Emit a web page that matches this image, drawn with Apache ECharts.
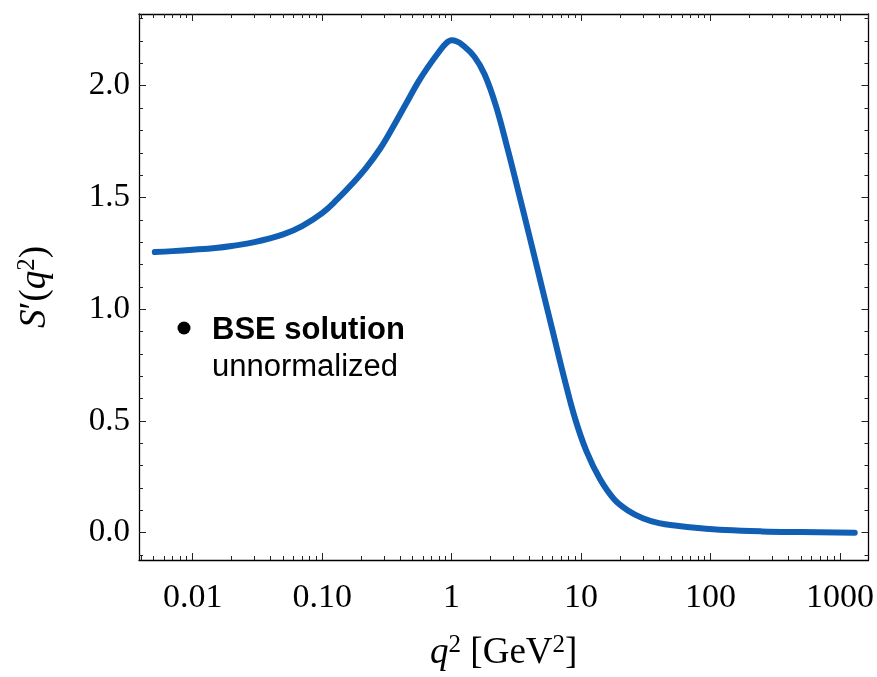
<!DOCTYPE html>
<html>
<head>
<meta charset="utf-8">
<script src="https://cdn.jsdelivr.net/npm/echarts@6/dist/echarts.min.js"></script>
<style>html,body{margin:0;padding:0;background:#fff;}#c{width:877px;height:677px;}</style>
</head>
<body>
<div id="c"></div>
<script>
// ---- data ----
const q2 = [0.0051, 0.007, 0.01, 0.015, 0.02, 0.03, 0.05, 0.07, 0.1, 0.13, 0.17, 0.22, 0.28, 0.35, 0.45, 0.55, 0.65, 0.8, 0.9, 1.0, 1.1, 1.2, 1.5, 1.8, 2.2, 2.7, 3.3, 4, 5, 6, 7.5, 9, 11, 14, 18, 23, 30, 40, 55, 80, 130, 250, 500, 1300];
const S = [1.256, 1.260, 1.266, 1.274, 1.283, 1.300, 1.335, 1.372, 1.43, 1.49, 1.56, 1.635, 1.718, 1.812, 1.925, 2.015, 2.08, 2.152, 2.188, 2.203, 2.198, 2.185, 2.13, 2.05, 1.91, 1.72, 1.52, 1.325, 1.095, 0.908, 0.68, 0.51, 0.365, 0.24, 0.15, 0.10, 0.065, 0.043, 0.031, 0.021, 0.012, 0.006, 0.003, 0.0];
const xMajorTicks = [0.01, 0.1, 1, 10, 100, 1000];
const xMinorTicks = [];
[0.001, 0.01, 0.1, 1, 10, 100, 1000].forEach(d => { for (let k = 2; k <= 9; k++) xMinorTicks.push(k * d); });
const yMajorTicks = [0.0, 0.5, 1.0, 1.5, 2.0];
const yMinorTicks = [-0.1, 0.1, 0.2, 0.3, 0.4, 0.6, 0.7, 0.8, 0.9, 1.1, 1.2, 1.3, 1.4, 1.6, 1.7, 1.8, 1.9, 2.1, 2.2, 2.3];
const xMin = 0.00385, xMax = 1660;
const yMin = -0.122, yMax = 2.321;

const serif = 'Liberation Serif';
const sans = 'Liberation Sans';
const tickColor = '#222';
const MAJ = 7, MIN = 4;

function xLabel(v) {
  if (v < 1) return v.toFixed(2);
  return String(Math.round(v));
}

const chart = echarts.init(document.getElementById('c'), null, {renderer: 'canvas'});

const lg = v => Math.log10(v);
const lineOn = {show: true, onZero: false, lineStyle: {color: '#000', width: 1.3}};
const lineOff = {show: false, onZero: false};

function minorX(pos) {
  return {
    type: 'value', position: pos, min: lg(xMin), max: lg(xMax), gridIndex: 0,
    axisLine: lineOff, splitLine: {show: false}, axisLabel: {show: false},
    axisTick: {show: true, inside: true, length: MIN, lineStyle: {color: tickColor, width: 1},
      customValues: xMinorTicks.map(lg)}
  };
}
function minorY(pos) {
  return {
    type: 'value', position: pos, min: yMin, max: yMax, gridIndex: 0,
    axisLine: lineOff, splitLine: {show: false}, axisLabel: {show: false},
    axisTick: {show: true, inside: true, length: MIN, lineStyle: {color: tickColor, width: 1},
      customValues: yMinorTicks}
  };
}
const nameRich = {
  i: {fontFamily: serif, fontStyle: 'italic', fontSize: 37, color: '#000'},
  r: {fontFamily: serif, fontSize: 37, color: '#000'},
  sup: {fontFamily: serif, fontSize: 25, color: '#000', padding: [0, 0, 15, 0]}
};

const option = {
  animation: false,
  backgroundColor: '#fff',
  grid: {left: 139, right: 8, top: 14, bottom: 117, containLabel: false},
  xAxis: [
    {
      type: 'log', logBase: 10, position: 'bottom', min: xMin, max: xMax,
      name: '{i|q}{sup|2}{r| [GeV}{sup|2}{r|]}',
      nameLocation: 'middle', nameGap: 73,
      nameTextStyle: {fontFamily: serif, fontSize: 37, color: '#000', rich: nameRich},
      axisLine: lineOn,
      axisTick: {show: true, inside: true, length: MAJ, lineStyle: {color: tickColor, width: 1}},
      axisLabel: {show: true, margin: 21, fontFamily: serif, fontSize: 34, color: '#000',
        formatter: xLabel, showMinLabel: false, showMaxLabel: false},
      splitLine: {show: false}, minorTick: {show: false}
    },
    {
      type: 'log', logBase: 10, position: 'top', min: xMin, max: xMax,
      axisLine: lineOn,
      axisTick: {show: true, inside: true, length: MAJ, lineStyle: {color: tickColor, width: 1}},
      axisLabel: {show: false}, splitLine: {show: false}
    },
    minorX('bottom'),
    minorX('top')
  ],
  yAxis: [
    {
      type: 'value', position: 'left', min: yMin, max: yMax,
      name: '{i|S}{r|′(}{i|q}{sup|2}{r|)}',
      nameLocation: 'middle', nameGap: 84, nameRotate: 90,
      nameTextStyle: {fontFamily: serif, fontSize: 37, color: '#000', rich: nameRich},
      axisLine: lineOn,
      axisTick: {show: true, inside: true, length: MAJ, lineStyle: {color: tickColor, width: 1},
        customValues: yMajorTicks},
      axisLabel: {show: true, margin: 9, fontFamily: serif, fontSize: 33, color: '#000',
        customValues: yMajorTicks, formatter: v => Number(v).toFixed(1)},
      splitLine: {show: false}
    },
    {
      type: 'value', position: 'right', min: yMin, max: yMax,
      axisLine: lineOn,
      axisTick: {show: true, inside: true, length: MAJ, lineStyle: {color: tickColor, width: 1},
        customValues: yMajorTicks},
      axisLabel: {show: false}, splitLine: {show: false}
    },
    minorY('left'),
    minorY('right')
  ],
  series: [{
    type: 'line',
    xAxisIndex: 0, yAxisIndex: 0,
    data: q2.map((x, i) => [x, S[i]]),
    smooth: 0.4,
    showSymbol: false,
    symbol: 'none',
    lineStyle: {color: '#105fb5', width: 6, cap: 'round', join: 'round'},
    z: 5
  }],
  graphic: [
    {type: 'circle', shape: {cx: 184, cy: 328, r: 6.5}, style: {fill: '#000'}, z: 10},
    {type: 'text', left: 212, top: 315, z: 10,
      style: {
        text: '{b|BSE solution}\n{n|unnormalized}',
        rich: {
          b: {fontFamily: sans, fontWeight: 'bold', fontSize: 31, lineHeight: 37, fill: '#000'},
          n: {fontFamily: sans, fontSize: 31, lineHeight: 37, fill: '#000'}
        }
      }
    }
  ]
};
chart.setOption(option);
</script>
</body>
</html>
